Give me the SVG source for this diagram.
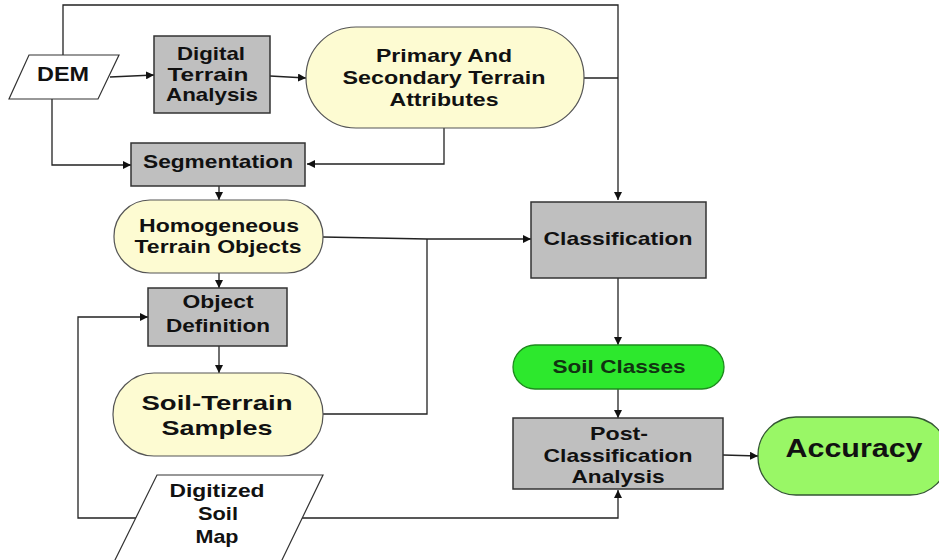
<svg xmlns="http://www.w3.org/2000/svg" width="939" height="560" viewBox="0 0 939 560">
<defs>
<marker id="arr" viewBox="0 0 10 10" refX="10" refY="5" markerWidth="8" markerHeight="8" markerUnits="userSpaceOnUse" orient="auto">
<path d="M0,0 L10,5 L0,10 z" fill="#111"/>
</marker>
<style>
.box{fill:#bfbfbf;stroke:#333;stroke-width:1.5}
.yel{fill:#fdfbd2;stroke:#555;stroke-width:1.2}
.par{fill:#fff;stroke:#333;stroke-width:1.2}
.t{font-family:"Liberation Sans",Arial,sans-serif;font-weight:bold;fill:#111;text-anchor:middle;font-size:19px}
.c{fill:none;stroke:#222;stroke-width:1.3}
.ca{fill:none;stroke:#222;stroke-width:1.3;marker-end:url(#arr)}
</style>
</defs>
<rect width="939" height="560" fill="#fff"/>
<g id="connectors">
<polyline class="ca" points="63,55 63,5 618,5 618,200"/>
<polyline class="c" points="584,78 618,78"/>
<polyline class="ca" points="110,77 154,75"/>
<polyline class="ca" points="270,76 306,78"/>
<polyline class="ca" points="444,128 444,164 307,164"/>
<polyline class="ca" points="52,99 52,165 131,165"/>
<polyline class="ca" points="219,186 219,200"/>
<polyline class="ca" points="323,237 427,239 531,239"/>
<polyline class="c" points="323,414 427,414 427,239"/>
<polyline class="ca" points="219,273 219,288"/>
<polyline class="ca" points="219,346 219,373"/>
<polyline class="ca" points="150,518 78,518 78,317 148,317"/>
<polyline class="ca" points="290,518 618,518 618,490"/>
<polyline class="ca" points="618,278 618,345"/>
<polyline class="ca" points="618,389 618,418"/>
<polyline class="ca" points="723,455 758,456"/>
</g>
<g id="dem">
<polygon class="par" points="29,55 119,55 98,99 9,99"/>
<text class="t" x="63" y="81" style="font-size:20px" textLength="52" lengthAdjust="spacingAndGlyphs">DEM</text>
</g>
<g id="dta">
<rect class="box" x="154" y="36" width="116" height="77"/>
<text class="t" x="211" y="60" textLength="68" lengthAdjust="spacingAndGlyphs">Digital</text>
<text class="t" x="208" y="81" textLength="81" lengthAdjust="spacingAndGlyphs">Terrain</text>
<text class="t" x="212" y="101" textLength="92" lengthAdjust="spacingAndGlyphs">Analysis</text>
</g>
<g id="primary">
<rect class="yel" x="306" y="27" width="278" height="101" rx="50" ry="50"/>
<text class="t" x="444" y="62" textLength="136" lengthAdjust="spacingAndGlyphs">Primary And</text>
<text class="t" x="444" y="84" textLength="203" lengthAdjust="spacingAndGlyphs">Secondary Terrain</text>
<text class="t" x="444" y="106" textLength="109" lengthAdjust="spacingAndGlyphs">Attributes</text>
</g>
<g id="segmentation">
<rect class="box" x="131" y="143" width="174" height="43"/>
<text class="t" x="218" y="168" textLength="150" lengthAdjust="spacingAndGlyphs">Segmentation</text>
</g>
<g id="homogeneous">
<rect class="yel" x="114" y="200" width="209" height="73" rx="36" ry="36"/>
<text class="t" x="219" y="232" textLength="160" lengthAdjust="spacingAndGlyphs">Homogeneous</text>
<text class="t" x="218" y="253" textLength="167" lengthAdjust="spacingAndGlyphs">Terrain Objects</text>
</g>
<g id="objdef">
<rect class="box" x="148" y="288" width="139" height="58"/>
<text class="t" x="218" y="308" textLength="71" lengthAdjust="spacingAndGlyphs">Object</text>
<text class="t" x="218" y="332" textLength="104" lengthAdjust="spacingAndGlyphs">Definition</text>
</g>
<g id="samples">
<rect class="yel" x="113" y="373" width="210" height="83" rx="41" ry="41"/>
<text class="t" x="217" y="410" style="font-size:21px" textLength="151" lengthAdjust="spacingAndGlyphs">Soil-Terrain</text>
<text class="t" x="217" y="435" style="font-size:21px" textLength="111" lengthAdjust="spacingAndGlyphs">Samples</text>
</g>
<g id="soilmap">
<polygon class="par" points="157,475 323,475 281,562 114,562"/>
<text class="t" x="217" y="497" textLength="95" lengthAdjust="spacingAndGlyphs">Digitized</text>
<text class="t" x="218" y="520" textLength="40" lengthAdjust="spacingAndGlyphs">Soil</text>
<text class="t" x="217" y="543" textLength="43" lengthAdjust="spacingAndGlyphs">Map</text>
</g>
<g id="classification">
<rect class="box" x="531" y="202" width="175" height="76"/>
<text class="t" x="618" y="245" textLength="149" lengthAdjust="spacingAndGlyphs">Classification</text>
</g>
<g id="soilclasses">
<rect x="513" y="345" width="211" height="44" rx="22" ry="22" fill="#2de82d" stroke="#1e8a1e" stroke-width="1.3"/>
<text class="t" x="619" y="373" style="fill:#113311" textLength="133" lengthAdjust="spacingAndGlyphs">Soil Classes</text>
</g>
<g id="postclass">
<rect class="box" x="513" y="418" width="210" height="71"/>
<text class="t" x="619" y="440" textLength="58" lengthAdjust="spacingAndGlyphs">Post-</text>
<text class="t" x="618" y="462" textLength="149" lengthAdjust="spacingAndGlyphs">Classification</text>
<text class="t" x="618" y="483" textLength="93" lengthAdjust="spacingAndGlyphs">Analysis</text>
</g>
<g id="accuracy">
<rect x="758" y="417" width="190" height="78" rx="38" ry="38" fill="#99f766" stroke="#335533" stroke-width="1.3"/>
<text class="t" x="854" y="457" style="font-size:25px" textLength="137" lengthAdjust="spacingAndGlyphs">Accuracy</text>
</g>
</svg>
